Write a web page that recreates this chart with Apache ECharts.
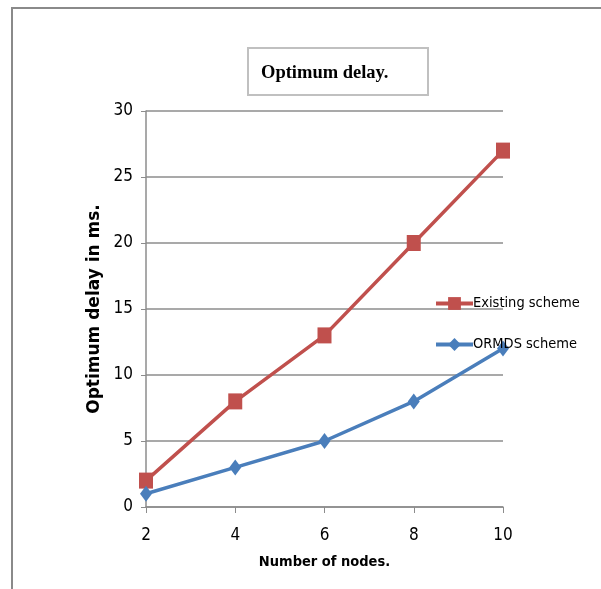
<!DOCTYPE html>
<html>
<head>
<meta charset="utf-8">
<script src="https://cdn.jsdelivr.net/npm/echarts@6/dist/echarts.min.js"></script>
<style>
html,body{margin:0;padding:0;background:#fff;}
#c{width:601px;height:589px;}
</style>
</head>
<body>
<div id="c"></div>
<script>
var categories = ['2', '4', '6', '8', '10'];
var existingScheme = [2, 8, 13, 20, 27];
var ormdsScheme = [1, 3, 5, 8, 12];
var yTicks = {min: 0, max: 30, interval: 5};

var narrow = "'Liberation Sans Narrow', 'DejaVu Sans Condensed', 'Liberation Sans', sans-serif";
var chart = echarts.init(document.getElementById('c'), null, {renderer: 'canvas'});
chart.setOption({
  backgroundColor: '#ffffff',
  animation: false,
  graphic: [{
    type: 'rect',
    shape: {x: 12, y: 8, width: 700, height: 700},
    style: {fill: 'none', stroke: '#8a8a8a', lineWidth: 2},
    silent: true
  }],
  title: {
    text: 'Optimum delay.',
    left: 248, top: 48,
    padding: [16, 40, 12, 13],
    borderColor: '#c0c0c0', borderWidth: 2,
    textStyle: {fontFamily: "'Liberation Serif', 'DejaVu Serif', serif", fontWeight: 'bold', fontSize: 18.5, color: '#000'}
  },
  legend: {
    orient: 'vertical',
    left: 434, top: 296, padding: 0,
    itemWidth: 37, itemHeight: 16, itemGap: 26,
    lineStyle: {width: 4},
    textStyle: {fontFamily: narrow, fontSize: 14.5, color: '#000', padding: [0, 0, 0, -5]},
    data: ['Existing scheme', 'ORMDS scheme']
  },
  grid: {left: 146, right: 98, top: 111, bottom: 82},
  xAxis: {
    type: 'category',
    data: categories,
    boundaryGap: false,
    name: 'Number of nodes.',
    nameLocation: 'middle',
    nameGap: 48,
    nameTextStyle: {fontFamily: narrow, fontWeight: 'bold', fontSize: 14.5, color: '#000'},
    axisLine: {lineStyle: {color: '#8c8c8c', width: 1.5}},
    axisTick: {show: true, alignWithLabel: true, length: 6, lineStyle: {color: '#8c8c8c'}},
    axisLabel: {fontFamily: narrow, fontSize: 17, color: '#000', margin: 20},
    splitLine: {show: false}
  },
  yAxis: {
    type: 'value',
    min: yTicks.min, max: yTicks.max, interval: yTicks.interval,
    name: 'Optimum delay in ms.',
    nameLocation: 'middle',
    nameGap: 38,
    nameTextStyle: {fontFamily: "'DejaVu Sans', sans-serif", fontWeight: 'bold', fontSize: 17, color: '#000'},
    axisLine: {show: true, lineStyle: {color: '#8c8c8c', width: 1.5}},
    axisTick: {show: true, length: 5, lineStyle: {color: '#8c8c8c'}},
    axisLabel: {fontFamily: narrow, fontSize: 17, color: '#000', margin: 13},
    splitLine: {show: true, lineStyle: {color: '#8c8c8c', width: 1.5}}
  },
  series: [{
    name: 'Existing scheme',
    type: 'line',
    data: existingScheme,
    symbol: 'rect',
    symbolSize: [14, 16],
    lineStyle: {color: '#C0504D', width: 3.5},
    itemStyle: {color: '#C0504D'}
  }, {
    name: 'ORMDS scheme',
    type: 'line',
    data: ormdsScheme,
    symbol: 'diamond',
    symbolSize: [12, 16],
    lineStyle: {color: '#4A7EBB', width: 3.5},
    itemStyle: {color: '#4A7EBB'}
  }]
});
</script>
</body>
</html>
